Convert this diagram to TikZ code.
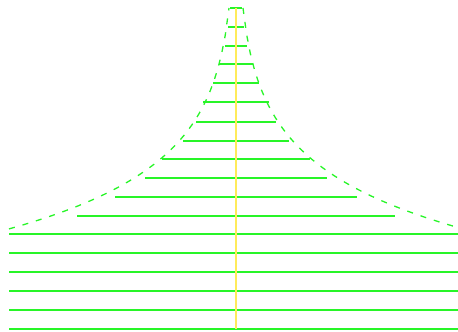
\documentclass[tikz,border=0pt]{standalone}
\usetikzlibrary{positioning}
\definecolor{g1}{RGB}{40,245,40}
\definecolor{y1}{RGB}{255,235,90}
\begin{document}
\begin{tikzpicture}[
    x=1pt, y=-1pt,
    hatch/.style={g1, line width=1.3pt},
    bound/.style={g1, line width=1.3pt, dash pattern=on 6pt off 8pt},
    axisline/.style={y1, line width=2pt},
  ]
  \useasboundingbox (0,0) rectangle (458,332);

  % hatching, upper part (level / half width)
  \foreach \yy/\ww in {8/6, 27/8, 46/11, 64/17, 83/23, 102/33, 122/40, 141/53, 159/74, 178/91, 197/121, 216/159}
    \draw[hatch] ({236-\ww},\yy) -- ({236+\ww},\yy);

  % hatching, lower part
  \foreach \yy in {234,253,272,291,310,329}
    \draw[hatch] (9,\yy) -- (458,\yy);

  % boundary curve
  \draw[bound] plot[domain=227:7, samples=60] ({236-\x},{8+63.5*ln(\x/7)});
  \draw[bound] plot[domain=7:222, samples=60] ({236+\x},{8+63.5*ln(\x/7)});

  % axis
  \draw[axisline] (236,8) -- (236,329);
\end{tikzpicture}
\end{document}
